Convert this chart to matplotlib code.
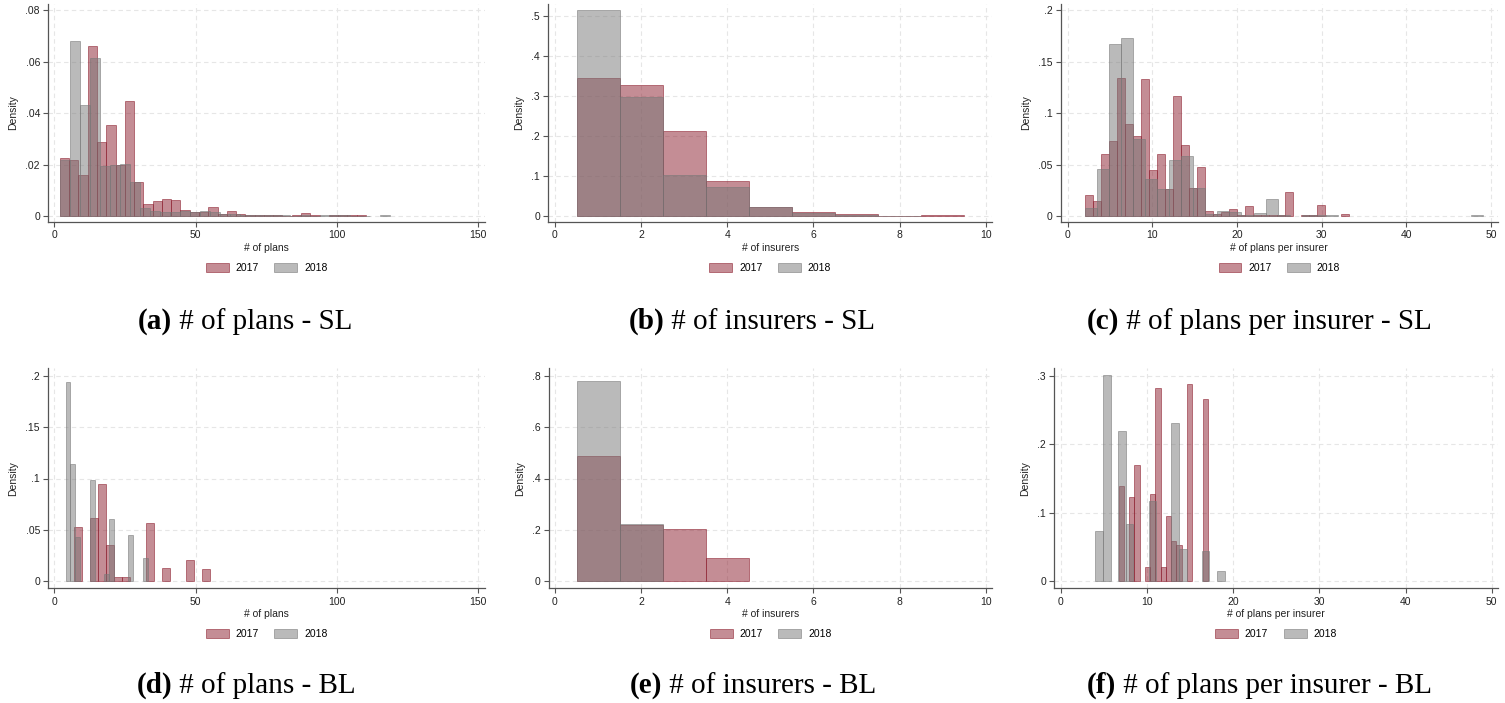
#!/usr/bin/env python3

import numpy as np
import matplotlib
matplotlib.use("Agg")
import matplotlib.pyplot as plt
from matplotlib.colors import to_rgba
from matplotlib.patches import Patch

# --- data: histogram densities ---
# each continuous series = first bin edge, bin width, density per bin

YEARS = ["2017", "2018"]

# (a) # of plans - SL
plans_sl_start = [2.0, 2.0]
plans_sl_width = [3.28, 3.54]
plans_sl_2017 = [0.0227, 0.0217, 0.0161, 0.066, 0.0288, 0.0354, 0.0198, 0.0449,
                 0.0131, 0.0048, 0.0058, 0.0066, 0.0064, 0.0022, 0.0015, 0.0016,
                 0.0036, 0.0008, 0.0018, 0.0006, 0.0002, 0.0005, 0.0005, 0.0005,
                 0.0001, 0.0005, 0.0013, 0.0004, 0.0, 0.0003, 0.0003, 0.0004,
                 0.0002]
plans_sl_2018 = [0.0217, 0.068, 0.0432, 0.0613, 0.0196, 0.0200, 0.0201, 0.0131,
                 0.0030, 0.0019, 0.0016, 0.0016, 0.0019, 0.0015, 0.0018, 0.0015,
                 0.0008, 0.0006, 0.0003, 0.0002, 0.0003, 0.0002, 0.0002, 0.0001,
                 0.0002, 0.0001, 0.0002, 0.0002, 0.0002, 0.0001, 0.0001, 0.0,
                 0.0002]

# (b) # of insurers - SL (discrete, one bar per count)
insurers_sl_counts = [1, 2, 3, 4, 5, 6, 7, 8, 9]
insurers_sl_2017 = [0.344, 0.326, 0.212, 0.087, 0.022, 0.010, 0.005, 0.001, 0.0015]
insurers_sl_2018 = [0.514, 0.296, 0.103, 0.072, 0.0216, 0.008, 0.003, 0.001, 0.0]

# (c) # of plans per insurer - SL
ppi_sl_start = [2.0, 2.0]
ppi_sl_width = [0.945, 1.425]
ppi_sl_2017 = [0.0201, 0.0146, 0.060, 0.073, 0.1339, 0.0894, 0.0778, 0.1329,
               0.0447, 0.0606, 0.026, 0.1167, 0.0687, 0.0276, 0.0476, 0.0049,
               0.0015, 0.004, 0.0071, 0.001, 0.0101, 0.001, 0.001, 0.001,
               0.001, 0.023, 0.0, 0.0005, 0.0005, 0.011, 0.0, 0.0, 0.0016]
ppi_sl_2018 = [0.0078, 0.0457, 0.1676, 0.1734, 0.0749, 0.036, 0.0263, 0.0548,
               0.058, 0.0276, 0.002, 0.0049, 0.004, 0.001, 0.0032, 0.0168,
               0.001, 0.0, 0.0005, 0.0005, 0.0005, 0.0, 0.0, 0.0, 0.0, 0.0,
               0.0, 0.0, 0.0, 0.0, 0.0, 0.0, 0.0007]

# (d) # of plans - BL
plans_bl_start = [7.0, 4.0]
plans_bl_width = [2.8235, 1.706]
plans_bl_2017 = [0.0525, 0.0, 0.0619, 0.0944, 0.0353, 0.0045, 0.0045, 0.0, 0.0,
                 0.0564, 0.0, 0.0126, 0.0, 0.0, 0.0207, 0.0, 0.0117]
plans_bl_2018 = [0.1936, 0.1141, 0.0434, 0.0, 0.0, 0.0982, 0.0, 0.0, 0.0068,
                 0.0606, 0.0, 0.0, 0.0, 0.0453, 0.0, 0.0, 0.0229]

# (e) # of insurers - BL (discrete)
insurers_bl_counts = [1, 2, 3, 4]
insurers_bl_2017 = [0.486, 0.2204, 0.2023, 0.0895]
insurers_bl_2018 = [0.7806, 0.2217, 0.0, 0.0]

# (f) # of plans per insurer - BL
ppi_bl_start = [6.7, 4.0]
ppi_bl_width = [0.608, 0.882]
ppi_bl_2017 = [0.1386, 0.0, 0.123, 0.170, 0.0, 0.0213, 0.1274, 0.282, 0.0213,
               0.0958, 0.0588, 0.053, 0.0, 0.288, 0.0, 0.0, 0.266]
ppi_bl_2018 = [0.073, 0.3006, 0.0, 0.2193, 0.084, 0.0, 0.0, 0.1172, 0.0, 0.0,
               0.231, 0.0471, 0.0, 0.0, 0.0442, 0.0, 0.0146]

# --- style ---

W, H = 1505, 703
SANS = "Liberation Sans"
SERIF = "Liberation Serif"
SMALL = 7.5

RED = "#8b1c2c"
GREY = "#777777"
FACE = {"2017": to_rgba(RED, 0.5), "2018": to_rgba(GREY, 0.5)}
EDGE = {"2017": to_rgba(RED, 0.55), "2018": to_rgba(GREY, 0.55)}

plt.rcParams.update({
    "font.family": SANS,
    "font.size": SMALL,
    "axes.linewidth": 0.9,
    "axes.edgecolor": "#555555",
})


def fmt_tick(v, _pos=None):
    s = f"{round(v, 6):g}"
    return s[1:] if s.startswith("0.") else s


def place(fig, box, xmap, ymap):
    # box/xmap/ymap are in image pixels (y grows downwards)
    left, right, top, bottom = box
    ax = fig.add_axes([left / W, 1 - bottom / H,
                       (right - left) / W, (bottom - top) / H])
    (p0, v0), (p1, v1) = xmap
    s = (v1 - v0) / (p1 - p0)
    ax.set_xlim(v0 + (left - p0) * s, v0 + (right - p0) * s)
    (q0, w0), (q1, w1) = ymap
    t = (w1 - w0) / (q1 - q0)
    ax.set_ylim(w0 + (bottom - q0) * t, w0 + (top - q0) * t)
    return ax


def draw_bins(ax, start, width, dens, year):
    dens = np.asarray(dens, dtype=float)
    left = start + width * np.arange(len(dens))
    keep = dens > 0
    ax.bar(left[keep], dens[keep], width=width, align="edge",
           color=FACE[year], edgecolor=EDGE[year], linewidth=0.7, zorder=2)


def draw_discrete(ax, counts, dens, year):
    counts = np.asarray(counts, dtype=float)
    dens = np.asarray(dens, dtype=float)
    keep = dens > 0
    ax.bar(counts[keep], dens[keep], width=1.0, align="center",
           color=FACE[year], edgecolor=EDGE[year], linewidth=0.7, zorder=2)


def style(ax, xticks, yticks, xlabel, box):
    left, right, top, bottom = box
    ax.spines["top"].set_visible(False)
    ax.spines["right"].set_visible(False)
    ax.set_xticks(xticks)
    ax.set_yticks(yticks)
    ax.xaxis.set_major_formatter(plt.FuncFormatter(fmt_tick))
    ax.yaxis.set_major_formatter(plt.FuncFormatter(fmt_tick))
    ax.tick_params(direction="out", length=3.5, width=0.8, color="#555555",
                   labelcolor="#222222", pad=2.5, labelsize=SMALL)
    ax.grid(True, color="#e6e6e6", linestyle=(0, (4, 3)), linewidth=0.8, zorder=0)
    ax.set_axisbelow(True)
    ax.set_xlabel(xlabel, fontsize=SMALL, color="#222222")
    ax.xaxis.set_label_coords(0.5, -26 / (bottom - top))
    ax.xaxis.label.set_va("center")
    ax.set_ylabel("Density", fontsize=SMALL, color="#222222", labelpad=5)
    handles = [Patch(facecolor=FACE[y], edgecolor=EDGE[y], linewidth=0.7)
               for y in YEARS]
    ax.legend(handles, YEARS, loc="center", ncol=2, frameon=False,
              bbox_to_anchor=(0.5, -46 / (bottom - top)), fontsize=SMALL,
              handlelength=2.2, handleheight=0.87, handletextpad=0.65,
              columnspacing=1.5)


def caption(fig, cx, base, tag, rest, size=21):
    r = fig.canvas.get_renderer()
    t1 = fig.text(0, 1 - base / H, tag, fontsize=size, fontweight="bold",
                  family=SERIF, va="baseline", ha="left")
    t2 = fig.text(0, 1 - base / H, " " + rest, fontsize=size,
                  family=SERIF, va="baseline", ha="left")
    w1 = t1.get_window_extent(r).width
    w2 = t2.get_window_extent(r).width
    x0 = cx - (w1 + w2) / 2
    t1.set_x(x0 / W)
    t2.set_x((x0 + w1) / W)


# --- figure ---

fig = plt.figure(figsize=(W / 100, H / 100), dpi=100)

TOP = (4, 222)
BOT = (368.3, 588.3)

# (a)
box = (48.3, 485, *TOP)
ax = place(fig, box, ((54.3, 0), (478.3, 150)), ((216, 0), (10.3, 0.08)))
for i, y in enumerate(YEARS):
    draw_bins(ax, plans_sl_start[i], plans_sl_width[i],
              [plans_sl_2017, plans_sl_2018][i], y)
style(ax, [0, 50, 100, 150], [0, 0.02, 0.04, 0.06, 0.08], "# of plans", box)

# (b)
box = (548.3, 992, *TOP)
ax = place(fig, box, ((555, 0), (985.7, 10)), ((216, 0), (15.7, 0.5)))
draw_discrete(ax, insurers_sl_counts, insurers_sl_2017, "2017")
draw_discrete(ax, insurers_sl_counts, insurers_sl_2018, "2018")
style(ax, [0, 2, 4, 6, 8, 10], [0, 0.1, 0.2, 0.3, 0.4, 0.5], "# of insurers", box)

# (c)
box = (1061, 1497.7, *TOP)
ax = place(fig, box, ((1067.7, 0), (1491, 50)), ((216, 0), (10.3, 0.2)))
for i, y in enumerate(YEARS):
    draw_bins(ax, ppi_sl_start[i], ppi_sl_width[i],
              [ppi_sl_2017, ppi_sl_2018][i], y)
style(ax, [0, 10, 20, 30, 40, 50], [0, 0.05, 0.1, 0.15, 0.2],
      "# of plans per insurer", box)

# (d)
box = (48.3, 485, *BOT)
ax = place(fig, box, ((54.3, 0), (478.3, 150)), ((581.3, 0), (375.7, 0.2)))
for i, y in enumerate(YEARS):
    draw_bins(ax, plans_bl_start[i], plans_bl_width[i],
              [plans_bl_2017, plans_bl_2018][i], y)
style(ax, [0, 50, 100, 150], [0, 0.05, 0.1, 0.15, 0.2], "# of plans", box)

# (e)
box = (549, 992.3, *BOT)
ax = place(fig, box, ((555, 0), (985.7, 10)), ((581.3, 0), (375.7, 0.8)))
draw_discrete(ax, insurers_bl_counts, insurers_bl_2017, "2017")
draw_discrete(ax, insurers_bl_counts, insurers_bl_2018, "2018")
style(ax, [0, 2, 4, 6, 8, 10], [0, 0.2, 0.4, 0.6, 0.8], "# of insurers", box)

# (f)
box = (1054.3, 1497.7, *BOT)
ax = place(fig, box, ((1061, 0), (1491.7, 50)), ((581.3, 0), (375.7, 0.3)))
for i, y in enumerate(YEARS):
    draw_bins(ax, ppi_bl_start[i], ppi_bl_width[i],
              [ppi_bl_2017, ppi_bl_2018][i], y)
style(ax, [0, 10, 20, 30, 40, 50], [0, 0.1, 0.2, 0.3],
      "# of plans per insurer", box)

# --- sub-captions ---

caption(fig, 245, 329, "(a)", "# of plans - SL")
caption(fig, 752, 329, "(b)", "# of insurers - SL")
caption(fig, 1259, 329, "(c)", "# of plans per insurer - SL")
caption(fig, 246, 693, "(d)", "# of plans - BL")
caption(fig, 753, 693, "(e)", "# of insurers - BL")
caption(fig, 1259, 693, "(f)", "# of plans per insurer - BL")

fig.savefig("out.png", dpi=100)
